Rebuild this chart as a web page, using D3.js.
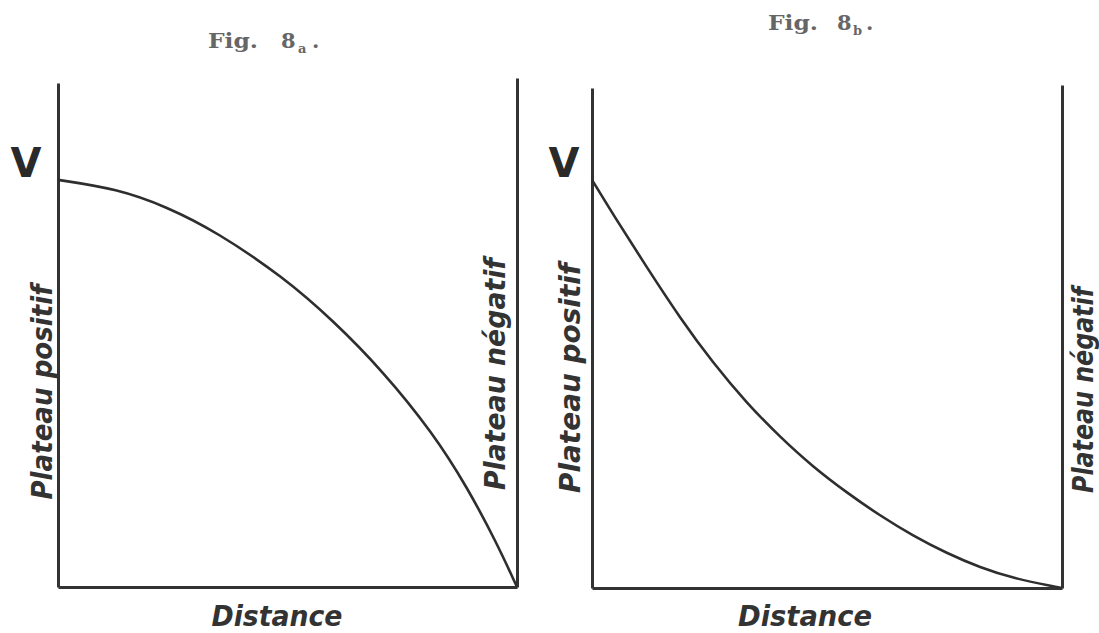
<!DOCTYPE html>
<html>
<head>
<meta charset="utf-8">
<script src="https://cdn.jsdelivr.net/npm/d3@7"></script>
<style>
  body { margin: 0; background: #fff; }
  .axis path { stroke: #333; stroke-width: 3; }
  .curve { fill: none; stroke: #2e2e2e; stroke-width: 2.6; }
  .lbl { font-family: "DejaVu Sans Condensed", "DejaVu Sans", sans-serif; font-weight: bold; font-style: italic; fill: #333; }
  .fig { font-family: "DejaVu Serif", "Liberation Serif", serif; font-weight: bold; fill: #666; }
</style>
</head>
<body>
<div id="chart"></div>
<script>
// Fig. 8a : potential between the plates, concave curve
const distanceA = [0, 0.129, 0.237, 0.346, 0.490, 0.599, 0.708, 0.817, 0.891, 0.956, 1];
const potentialA = [1, 0.978, 0.934, 0.872, 0.762, 0.655, 0.530, 0.378, 0.246, 0.108, 0];

// Fig. 8b : convex curve
const distanceB = [0, 0.045, 0.117, 0.187, 0.257, 0.330, 0.400, 0.470, 0.543, 0.613, 0.683, 0.755, 0.826, 0.896, 0.981, 1];
const potentialB = [1, 0.915, 0.785, 0.662, 0.552, 0.452, 0.370, 0.297, 0.233, 0.177, 0.128, 0.085, 0.050, 0.024, 0.004, 0];

const panels = [
  { name: "a", dist: distanceA, pot: potentialA, x0: 58, x1: 517, yBottom: 587, yTop: 83, yMax: 1.238, rightTop: 78,
    fig: [208, 48, 281, 298, 312], v: [26, 177], pos: [52, 392, 215], neg: [505, 374, 232], dis: [277, 626, 131] },
  { name: "b", dist: distanceB, pot: potentialB, x0: 592, x1: 1062, yBottom: 588, yTop: 88, yMax: 1.225, rightTop: 85,
    fig: [768, 30, 837, 853, 866], v: [564, 177], pos: [580, 378, 230], neg: [1093, 390, 206], dis: [805, 626, 134] }
];

const width = 1099, height = 633;
const svg = d3.select("#chart").append("svg")
  .attr("width", width)
  .attr("height", height);

panels.forEach(p => {
  const x = d3.scaleLinear().domain([0, 1]).range([p.x0, p.x1]);
  const y = d3.scaleLinear().domain([0, p.yMax]).range([p.yBottom, p.yTop]);
  const yRight = d3.scaleLinear().domain([0, p.yMax]).range([p.yBottom, p.rightTop]);

  const g = svg.append("g").attr("class", "panel-" + p.name);

  g.append("g")
    .attr("class", "axis")
    .attr("transform", "translate(" + x(0) + ",0)")
    .call(d3.axisLeft(y).ticks(0).tickSizeOuter(0));

  g.append("g")
    .attr("class", "axis")
    .attr("transform", "translate(0," + y(0) + ")")
    .call(d3.axisBottom(x).ticks(0).tickSizeOuter(0));

  g.append("g")
    .attr("class", "axis")
    .attr("transform", "translate(" + x(1) + ",0)")
    .call(d3.axisRight(yRight).ticks(0).tickSizeOuter(0));

  const line = d3.line()
    .x((d, i) => x(p.dist[i]))
    .y(d => y(d))
    .curve(d3.curveBasis);

  g.append("path")
    .attr("class", "curve")
    .attr("d", line(p.pot));

  // title, e.g. "Fig. 8a."
  const t = g.append("text")
    .attr("class", "fig")
    .attr("y", p.fig[1])
    .style("font-size", "21px");
  t.append("tspan").attr("x", p.fig[0]).attr("textLength", 50).attr("lengthAdjust", "spacingAndGlyphs").text("Fig.");
  t.append("tspan").attr("x", p.fig[2]).text("8");
  t.append("tspan").attr("x", p.fig[3]).attr("dy", 5).style("font-size", "13px").text(p.name);
  t.append("tspan").attr("x", p.fig[4]).attr("dy", -5).text(".");

  g.append("text")
    .attr("x", p.v[0])
    .attr("y", p.v[1])
    .attr("text-anchor", "middle")
    .style("font-family", "'DejaVu Sans', sans-serif")
    .style("font-weight", "bold")
    .style("font-size", "40px")
    .style("fill", "#2a2a2a")
    .text("V");

  g.append("text")
    .attr("class", "lbl")
    .attr("transform", "translate(" + p.pos[0] + "," + p.pos[1] + ") rotate(-90)")
    .attr("text-anchor", "middle")
    .attr("textLength", p.pos[2])
    .attr("lengthAdjust", "spacingAndGlyphs")
    .style("font-size", "29px")
    .text("Plateau positif");

  g.append("text")
    .attr("class", "lbl")
    .attr("transform", "translate(" + p.neg[0] + "," + p.neg[1] + ") rotate(-90)")
    .attr("text-anchor", "middle")
    .attr("textLength", p.neg[2])
    .attr("lengthAdjust", "spacingAndGlyphs")
    .style("font-size", "29px")
    .text("Plateau négatif");

  g.append("text")
    .attr("class", "lbl")
    .attr("x", p.dis[0])
    .attr("y", p.dis[1])
    .attr("text-anchor", "middle")
    .attr("textLength", p.dis[2])
    .attr("lengthAdjust", "spacingAndGlyphs")
    .style("font-size", "28px")
    .text("Distance");
});
</script>
</body>
</html>
